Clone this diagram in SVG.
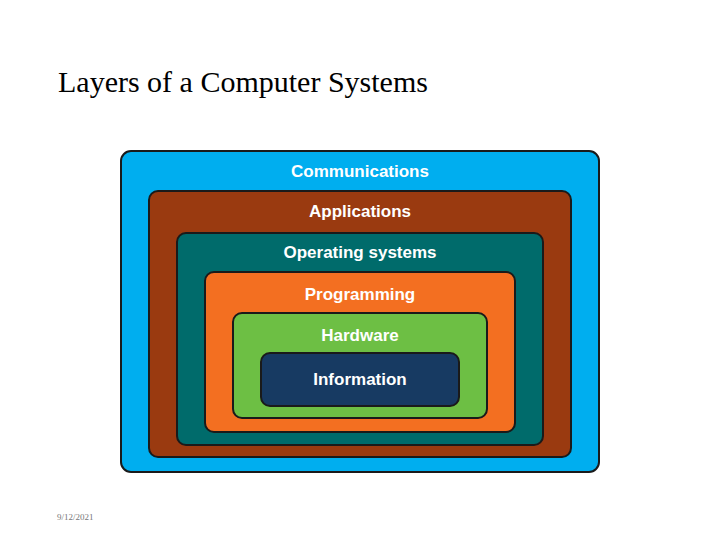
<svg xmlns="http://www.w3.org/2000/svg" width="720" height="540" viewBox="0 0 720 540">
<style>
.b{stroke:#1a1a1a;stroke-width:2}
.l{font-family:"Liberation Sans",Arial,sans-serif;font-weight:bold;font-size:17px;fill:#fff;text-anchor:middle}
</style>
<rect width="720" height="540" fill="#fff"/>
<text x="58" y="92" font-family="Liberation Serif,serif" font-size="30" fill="#000">Layers of a Computer Systems</text>
<g id="communications"><rect class="b" x="121" y="151" width="478" height="321" rx="10" fill="#00aeef"/><text class="l" x="360" y="177">Communications</text></g>
<g id="applications"><rect class="b" x="149" y="191" width="422" height="266" rx="9" fill="#9a3a10"/><text class="l" x="360" y="217">Applications</text></g>
<g id="os"><rect class="b" x="177" y="233" width="366" height="212" rx="9" fill="#006b6b"/><text class="l" x="360" y="258">Operating systems</text></g>
<g id="programming"><rect class="b" x="205" y="272" width="310" height="160" rx="9" fill="#f36f21"/><text class="l" x="360" y="300">Programming</text></g>
<g id="hardware"><rect class="b" x="233" y="313" width="254" height="105" rx="9" fill="#6dbf44"/><text class="l" x="360" y="341">Hardware</text></g>
<g id="information"><rect class="b" x="261" y="353" width="198" height="53" rx="9" fill="#173a62"/><text class="l" x="360" y="385">Information</text></g>
<g id="connectors"/>
<text x="57" y="520" font-family="Liberation Serif,serif" font-size="9" fill="#777">9/12/2021</text>
</svg>
